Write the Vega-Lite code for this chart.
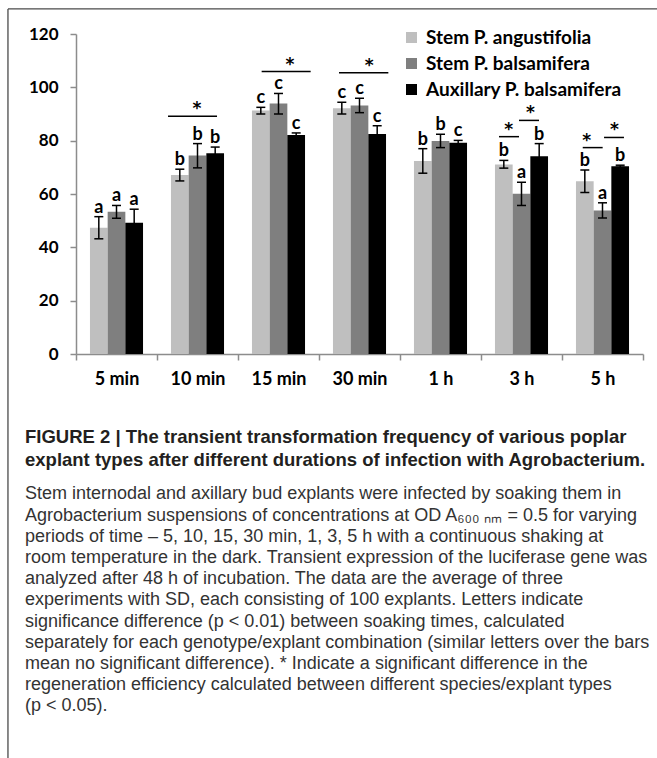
{
  "$schema": "https://vega.github.io/schema/vega-lite/v6.json",
  "width": 567,
  "height": 320,
  "autosize": {"type": "none"},
  "padding": {"left": 76, "top": 34, "right": 14, "bottom": 404},
  "background": "white",
  "config": {
    "view": {"stroke": null},
    "font": "Lato",
    "axisY": {
      "grid": false,
      "labelFont": "Lato",
      "labelFontSize": 17,
      "labelFontWeight": "bold",
      "labelColor": "#000000",
      "labelPadding": 12,
      "tickSize": 6,
      "tickWidth": 1.5,
      "tickColor": "#8c8c8c",
      "domainColor": "#8c8c8c",
      "domainWidth": 1.5
    },
    "axisX": {
      "grid": false,
      "labelAngle": 0,
      "labelFont": "Lato",
      "labelFontSize": 18,
      "labelFontWeight": "bold",
      "labelColor": "#000000",
      "labelPadding": 10,
      "tickSize": 6,
      "tickWidth": 1.5,
      "tickColor": "#8c8c8c",
      "domainColor": "#8c8c8c",
      "domainWidth": 1.5
    }
  },
  "title": {
    "text": ["FIGURE 2 | The transient transformation frequency of various poplar", "explant types after different durations of infection with Agrobacterium."],
    "subtitle": [
      "Stem internodal and axillary bud explants were infected by soaking them in",
      "Agrobacterium suspensions of concentrations at OD A₆₀₀ ₙₘ = 0.5 for varying",
      "periods of time – 5, 10, 15, 30 min, 1, 3, 5 h with a continuous shaking at",
      "room temperature in the dark. Transient expression of the luciferase gene was",
      "analyzed after 48 h of incubation. The data are the average of three",
      "experiments with SD, each consisting of 100 explants. Letters indicate",
      "significance difference (p < 0.01) between soaking times, calculated",
      "separately for each genotype/explant combination (similar letters over the bars",
      "mean no significant difference). * Indicate a significant difference in the",
      "regeneration efficiency calculated between different species/explant types",
      "(p < 0.05)."
    ],
    "orient": "bottom",
    "anchor": "start",
    "frame": "group",
    "dx": -51,
    "offset": -331,
    "font": "Liberation Sans",
    "fontSize": 18.5,
    "fontWeight": "bold",
    "color": "#231f20",
    "lineHeight": 23.3,
    "subtitleFont": "Liberation Sans",
    "subtitleFontSize": 18,
    "subtitleFontWeight": "normal",
    "subtitleColor": "#333333",
    "subtitleLineHeight": 21.2,
    "subtitlePadding": 16
  },
  "datasets": {
    "bars": [
      {"time": "5 min", "series": "Stem P. angustifolia", "value": 47.3, "lo": 43.2, "hi": 51.5, "letter": "a"},
      {"time": "5 min", "series": "Stem P. balsamifera", "value": 53.3, "lo": 50.9, "hi": 55.7, "letter": "a"},
      {"time": "5 min", "series": "Auxillary P. balsamifera", "value": 49.2, "lo": 44.2, "hi": 54.3, "letter": "a"},
      {"time": "10 min", "series": "Stem P. angustifolia", "value": 67.1, "lo": 64.9, "hi": 69.3, "letter": "b"},
      {"time": "10 min", "series": "Stem P. balsamifera", "value": 74.4, "lo": 69.8, "hi": 78.9, "letter": "b"},
      {"time": "10 min", "series": "Auxillary P. balsamifera", "value": 75.3, "lo": 73.0, "hi": 77.6, "letter": "b"},
      {"time": "15 min", "series": "Stem P. angustifolia", "value": 91.3, "lo": 90.0, "hi": 92.5, "letter": "c"},
      {"time": "15 min", "series": "Stem P. balsamifera", "value": 93.9, "lo": 90.0, "hi": 97.7, "letter": "c"},
      {"time": "15 min", "series": "Auxillary P. balsamifera", "value": 82.1, "lo": 81.3, "hi": 82.9, "letter": "c"},
      {"time": "30 min", "series": "Stem P. angustifolia", "value": 92.2, "lo": 90.0, "hi": 94.4, "letter": "c"},
      {"time": "30 min", "series": "Stem P. balsamifera", "value": 93.2, "lo": 90.5, "hi": 95.9, "letter": "c"},
      {"time": "30 min", "series": "Auxillary P. balsamifera", "value": 82.5, "lo": 79.4, "hi": 85.6, "letter": "c"},
      {"time": "1 h", "series": "Stem P. angustifolia", "value": 72.4, "lo": 67.8, "hi": 77.0, "letter": "b"},
      {"time": "1 h", "series": "Stem P. balsamifera", "value": 79.9, "lo": 77.4, "hi": 82.4, "letter": "b"},
      {"time": "1 h", "series": "Auxillary P. balsamifera", "value": 79.2, "lo": 78.3, "hi": 80.1, "letter": "c"},
      {"time": "3 h", "series": "Stem P. angustifolia", "value": 71.1, "lo": 69.7, "hi": 72.6, "letter": "b"},
      {"time": "3 h", "series": "Stem P. balsamifera", "value": 60.1, "lo": 55.7, "hi": 64.4, "letter": "a"},
      {"time": "3 h", "series": "Auxillary P. balsamifera", "value": 74.2, "lo": 69.6, "hi": 78.9, "letter": "b"},
      {"time": "5 h", "series": "Stem P. angustifolia", "value": 64.8, "lo": 60.6, "hi": 69.0, "letter": "b"},
      {"time": "5 h", "series": "Stem P. balsamifera", "value": 53.8, "lo": 51.0, "hi": 56.7, "letter": "a"},
      {"time": "5 h", "series": "Auxillary P. balsamifera", "value": 70.4, "lo": 70.0, "hi": 70.8, "letter": "b"}
    ],
    "sig": [
      {"from": 1.136, "to": 1.741, "level": 89.2, "star": 1.494},
      {"from": 2.292, "to": 2.897, "level": 105.9, "star": 2.642},
      {"from": 3.247, "to": 3.856, "level": 105.5, "star": 3.621},
      {"from": 5.222, "to": 5.469, "level": 81.5, "star": 5.342},
      {"from": 5.469, "to": 5.716, "level": 87.6, "star": 5.611},
      {"from": 6.256, "to": 6.502, "level": 77.4, "star": 6.305},
      {"from": 6.519, "to": 6.765, "level": 81.2, "star": 6.646}
    ]
  },
  "layer": [
    {
      "data": {"name": "bars"},
      "encoding": {
        "x": {
          "field": "time",
          "type": "nominal",
          "sort": ["5 min", "10 min", "15 min", "30 min", "1 h", "3 h", "5 h"],
          "scale": {"paddingInner": 0, "paddingOuter": 0},
          "axis": {"title": null, "tickBand": "extent"}
        },
        "xOffset": {
          "field": "series",
          "type": "nominal",
          "sort": ["Stem P. angustifolia", "Stem P. balsamifera", "Auxillary P. balsamifera"],
          "scale": {"paddingInner": 0, "paddingOuter": 0.79}
        }
      },
      "layer": [
        {
          "mark": {"type": "bar"},
          "encoding": {
            "y": {
              "field": "value",
              "type": "quantitative",
              "scale": {"domain": [0, 120], "nice": false},
              "axis": {"title": null, "values": [0, 20, 40, 60, 80, 100, 120]}
            },
            "color": {
              "field": "series",
              "type": "nominal",
              "scale": {
                "domain": ["Stem P. angustifolia", "Stem P. balsamifera", "Auxillary P. balsamifera"],
                "range": ["#bfbfbf", "#7f7f7f", "#000000"]
              },
              "legend": {
                "title": null,
                "orient": "none",
                "legendX": 326,
                "legendY": -6,
                "padding": 0,
                "symbolType": "square",
                "symbolSize": 121,
                "symbolStrokeWidth": 0,
                "symbolOpacity": 1,
                "labelFont": "Lato",
                "labelFontSize": 19,
                "labelFontWeight": "bold",
                "labelColor": "#000000",
                "labelLimit": 320,
                "labelOffset": 5,
                "rowPadding": 6
              }
            }
          }
        },
        {
          "mark": {"type": "rule", "color": "#000000", "strokeWidth": 1.5},
          "encoding": {
            "y": {"field": "lo", "type": "quantitative", "scale": {"domain": [0, 120], "nice": false}, "axis": {"title": null}},
            "y2": {"field": "hi"}
          }
        },
        {
          "mark": {"type": "tick", "color": "#000000", "thickness": 1.5, "size": 9, "opacity": 1},
          "encoding": {
            "y": {"field": "lo", "type": "quantitative", "scale": {"domain": [0, 120], "nice": false}, "axis": {"title": null}}
          }
        },
        {
          "mark": {"type": "tick", "color": "#000000", "thickness": 1.5, "size": 9, "opacity": 1},
          "encoding": {
            "y": {"field": "hi", "type": "quantitative", "scale": {"domain": [0, 120], "nice": false}, "axis": {"title": null}}
          }
        },
        {
          "mark": {"type": "text", "baseline": "alphabetic", "dy": -4, "font": "Lato", "fontSize": 18, "fontWeight": "bold", "color": "#000000"},
          "encoding": {
            "y": {"field": "hi", "type": "quantitative", "scale": {"domain": [0, 120], "nice": false}, "axis": {"title": null}},
            "text": {"field": "letter"}
          }
        }
      ]
    },
    {
      "data": {"name": "sig"},
      "layer": [
        {
          "mark": {"type": "rule", "color": "#000000", "strokeWidth": 1.5},
          "encoding": {
            "x": {"field": "from", "type": "quantitative", "scale": {"domain": [0, 7], "nice": false, "zero": false}, "axis": null},
            "x2": {"field": "to"},
            "y": {"field": "level", "type": "quantitative", "scale": {"domain": [0, 120], "nice": false}, "axis": {"title": null}}
          }
        },
        {
          "mark": {"type": "text", "baseline": "alphabetic", "dy": -2, "font": "DejaVu Sans", "fontSize": 17, "fontWeight": "bold", "color": "#000000"},
          "encoding": {
            "x": {"field": "star", "type": "quantitative", "scale": {"domain": [0, 7], "nice": false, "zero": false}, "axis": null},
            "y": {"field": "level", "type": "quantitative", "scale": {"domain": [0, 120], "nice": false}, "axis": {"title": null}},
            "text": {"value": "*"}
          }
        },
        {
          "data": {"values": [{"edge": "left"}]},
          "mark": {"type": "rule", "color": "#4a4a4a", "strokeWidth": 1.3},
          "encoding": {
            "x": {"datum": -0.84, "type": "quantitative", "scale": {"domain": [0, 7], "nice": false, "zero": false}, "axis": null},
            "y": {"datum": 129.4, "type": "quantitative", "scale": {"domain": [0, 120], "nice": false}, "axis": {"title": null}},
            "y2": {"datum": -151.5}
          }
        },
        {
          "data": {"values": [{"edge": "top"}]},
          "mark": {"type": "rule", "color": "#4a4a4a", "strokeWidth": 1.3},
          "encoding": {
            "x": {"datum": -0.84, "type": "quantitative", "scale": {"domain": [0, 7], "nice": false, "zero": false}, "axis": null},
            "x2": {"datum": 7.2},
            "y": {"datum": 129.4, "type": "quantitative", "scale": {"domain": [0, 120], "nice": false}, "axis": {"title": null}}
          }
        }
      ]
    }
  ],
  "resolve": {"scale": {"x": "independent"}}
}
